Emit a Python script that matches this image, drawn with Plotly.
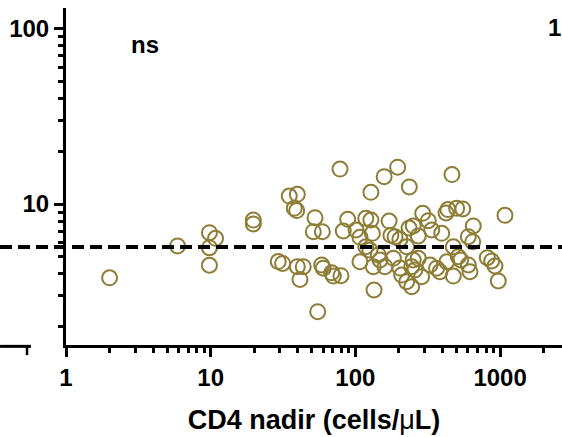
import plotly.graph_objects as go

# CD4 nadir (cells/uL) and y value (log scale)
cd4_nadir = [2.0, 5.9, 9.8, 10.8, 9.8, 9.8, 19.7, 19.7, 34.9, 39.7, 37.8, 39.3, 29.3, 31.4, 39.7, 43.6, 41.4,
             78.3, 52.6, 51.2, 59.1, 82.5, 88.5, 101, 118, 107.6, 118, 58.5, 60.0, 68.6, 70.4, 79.5, 107.6, 54.9, 134.5,
             196, 158, 236, 128, 465, 128, 171, 131, 188, 203, 251, 292, 319, 337, 272, 395, 423,
             126, 144, 148, 183, 133, 160, 226, 251, 272, 245, 258, 209, 226, 245, 287, 328, 364, 384,
             176, 235, 203,
             1081, 436, 501, 552, 653, 603, 647, 475, 428, 514, 534, 603, 619, 475, 816, 875, 922, 972]
y_values = [3.8, 5.77, 6.87, 6.38, 5.64, 4.48, 8.1, 7.7, 11.1, 11.35, 9.45, 9.17, 4.7, 4.59, 4.4, 4.4, 3.72,
            15.8, 8.36, 6.96, 6.96, 7.02, 8.18, 7.11, 8.29, 6.46, 5.71, 4.5, 4.31, 4.06, 3.89, 3.91, 4.69, 2.44, 3.24,
            16.2, 14.3, 12.5, 11.66, 14.7, 8.11, 8.0, 6.81, 6.52, 6.3, 7.5, 8.85, 8.04, 7.11, 6.58, 6.81, 8.89,
            5.47, 5.13, 4.8, 4.91, 4.4, 4.4, 5.71, 4.8, 4.91, 4.4, 4.21, 3.94, 3.61, 3.38, 3.86, 4.5, 4.31, 4.12,
            6.63, 7.3, 4.32,
            8.62, 9.3, 9.45, 9.37, 7.5, 6.52, 6.1, 5.71, 4.69, 5.01, 4.8, 4.5, 4.12, 3.89, 4.95, 4.74, 4.44, 3.65]

reference_level = 5.7
x_tick_values = [1, 10, 100, 1000]
x_tick_labels = ["1", "10", "100", "1000"]
y_tick_values = [10, 100]
y_tick_labels = ["10", "100"]
x_minor = [m * 10 ** e for e in range(0, 4) for m in range(2, 10)]
y_minor = [m * 10 ** e for e in range(0, 3) for m in range(2, 10)]

FONT = "Arial, Liberation Sans, sans-serif"
W, H = 562, 437
ml, mr, mt, mb = 66, 0, 8, 92

fig = go.Figure()
fig.add_trace(go.Scatter(
    x=cd4_nadir, y=y_values, mode="markers",
    marker=dict(symbol="circle-open", size=15, color="#8D7D36", line=dict(width=2, color="#8D7D36")),
    showlegend=False, cliponaxis=False,
))

axis_common = dict(
    type="log", showgrid=False, zeroline=False, showline=True, linecolor="black", linewidth=3,
    ticks="outside", ticklen=9, tickwidth=2.5, tickcolor="black",
    tickfont=dict(family=FONT, size=24, color="black", weight="bold"),
    tickmode="array",
)
fig.update_xaxes(**axis_common, range=[0, 3.428], tickvals=x_tick_values, ticktext=x_tick_labels,
                 minor=dict(tickmode="array", tickvals=x_minor, ticks="outside", ticklen=5, tickwidth=2.5,
                            tickcolor="black", showgrid=False),
                 title=dict(text="CD4 nadir (cells/<span style='font-weight:normal'>μ</span>L)",
                            font=dict(family=FONT, size=27, color="black", weight="bold"), standoff=21))
fig.update_yaxes(**axis_common, range=[0.1975, 2.1155], tickvals=y_tick_values, ticktext=y_tick_labels,
                 minor=dict(tickmode="array", tickvals=y_minor, ticks="outside", ticklen=5, tickwidth=2.5,
                            tickcolor="black", showgrid=False))

shapes = [
    dict(type="line", xref="paper", yref="y", x0=-0.133, x1=1.0, y0=reference_level, y1=reference_level,
         line=dict(color="black", width=4, dash="12px,6px"), layer="above"),
    # neighbouring panel's x axis fragment at the left edge
    dict(type="line", xref="paper", yref="paper", x0=-0.133, x1=-0.0706, y0=-0.004, y1=-0.004,
         line=dict(color="black", width=3)),
    dict(type="line", xref="paper", yref="paper", x0=-0.0786, x1=-0.0786, y0=-0.004, y1=-0.03,
         line=dict(color="black", width=2.5)),
]
fig.update_layout(
    width=W, height=H, margin=dict(l=ml, r=mr, t=mt, b=mb),
    paper_bgcolor="white", plot_bgcolor="white", shapes=shapes,
    annotations=[
        dict(text="ns", xref="paper", yref="paper", x=0.159, y=0.893, showarrow=False,
             xanchor="center", yanchor="middle",
             font=dict(family=FONT, size=24, color="black", weight="bold")),
        dict(text="1", xref="paper", yref="paper", x=0.984, y=0.941, showarrow=False,
             xanchor="center", yanchor="middle",
             font=dict(family=FONT, size=24, color="black", weight="bold")),
    ],
)
fig.write_html("out.html", config={"displayModeBar": False},
               post_script="document.body.style.margin='0';document.body.style.overflow='hidden';")
